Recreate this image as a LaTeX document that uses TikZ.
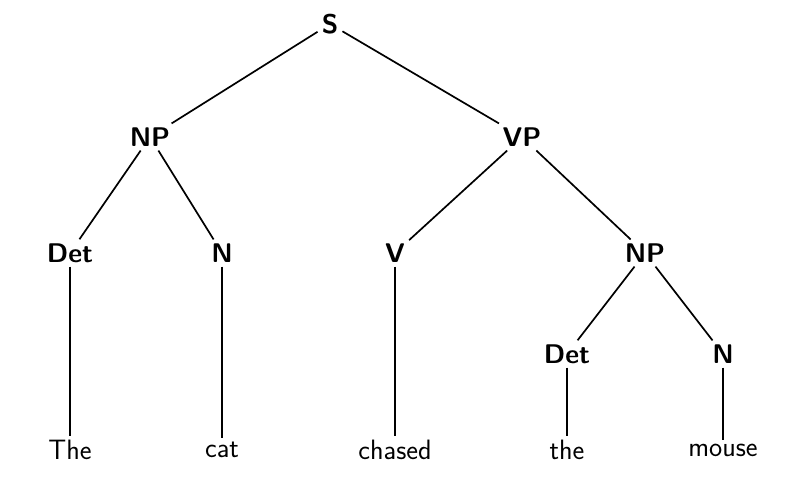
\documentclass[tikz,border=0pt]{standalone}
\begin{document}
\begin{tikzpicture}[x=1pt,y=-1pt,
  lab/.style={font=\fontsize{27}{30}\selectfont\sffamily\bfseries,inner sep=4pt},
  leaf/.style={font=\fontsize{28}{30}\selectfont\sffamily,inner sep=4pt},
  edge/.style={line width=1.7pt}]
\useasboundingbox (0,0) rectangle (800,493);
\node[lab] (S) at (330,24) {S};
\node[lab] (NP) at (150,137) {NP};
\node[lab] (VP) at (522,137) {VP};
\node[lab] (Det) at (70,253) {Det};
\node[lab] (N) at (222,253) {N};
\node[lab] (V) at (395,253) {V};
\node[lab] (NPb) at (645,253) {NP};
\node[lab] (Detb) at (567,354) {Det};
\node[lab] (Nb) at (723,354) {N};
\node[leaf] (w1) at (70,450) {The};
\node[leaf] (w2) at (222,450) {cat};
\node[leaf] (w3) at (395,450) {chased};
\node[leaf] (w4) at (567,450) {the};
\node[leaf] (w5) at (723,450) {mouse};
\draw[edge] (S) -- (NP);
\draw[edge] (S) -- (VP);
\draw[edge] (NP) -- (Det);
\draw[edge] (NP) -- (N);
\draw[edge] (VP) -- (V);
\draw[edge] (VP) -- (NPb);
\draw[edge] (NPb) -- (Detb);
\draw[edge] (NPb) -- (Nb);
\draw[edge] (Det) -- (w1);
\draw[edge] (N) -- (w2);
\draw[edge] (V) -- (w3);
\draw[edge] (Detb) -- (w4);
\draw[edge] (Nb) -- (w5);
\end{tikzpicture}
\end{document}
